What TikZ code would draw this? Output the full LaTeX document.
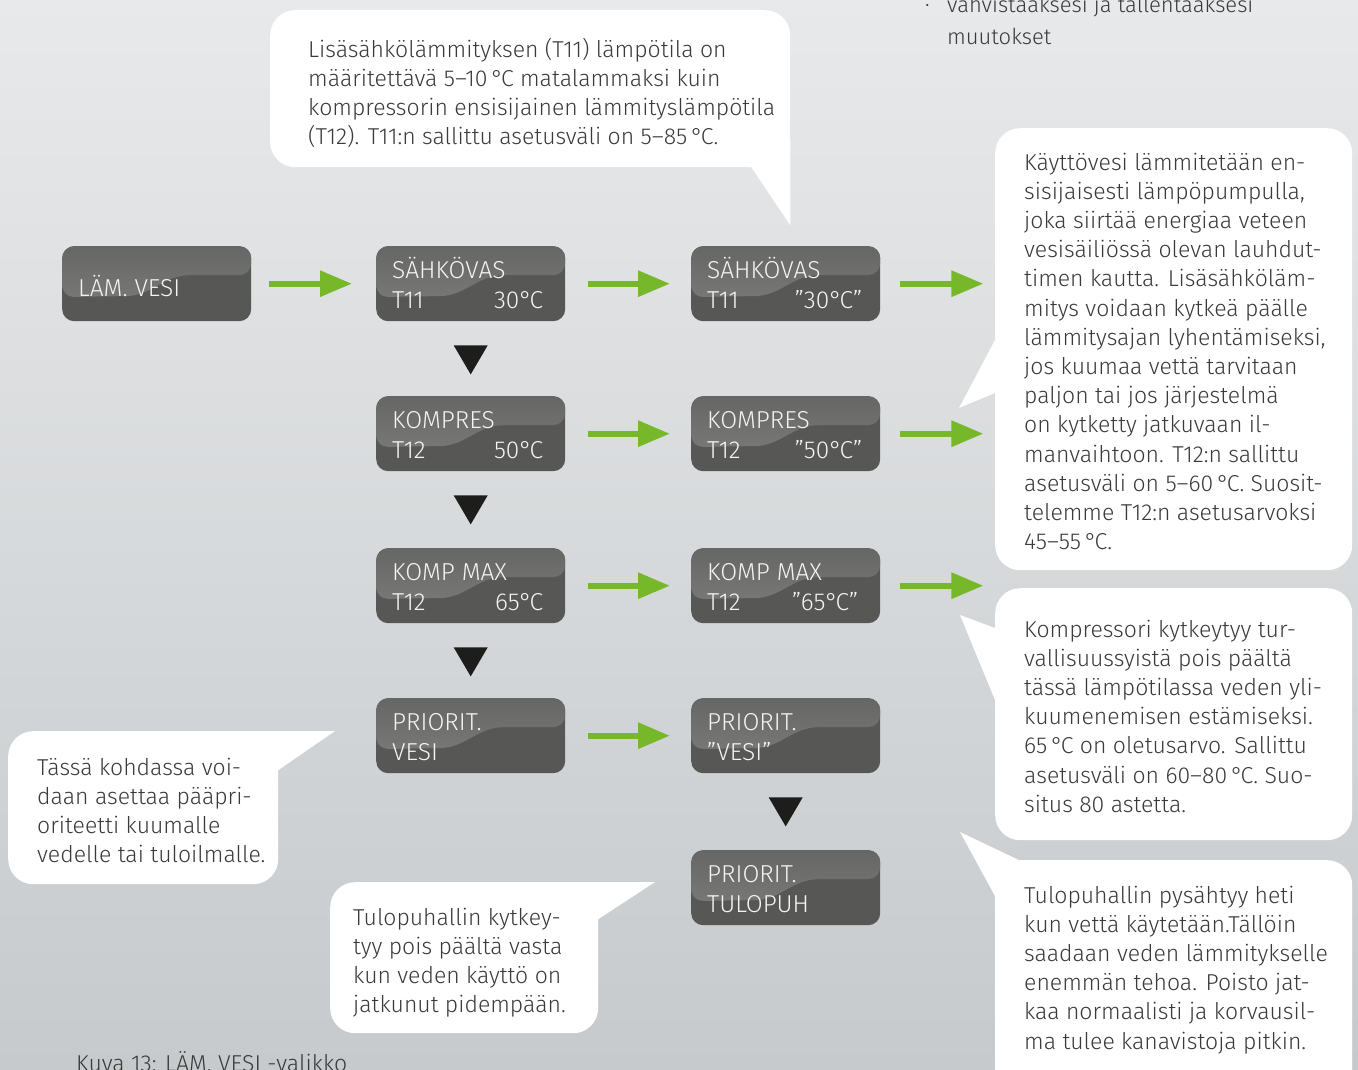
\documentclass[tikz,border=0pt]{standalone}
\usepackage{fontspec}
\setmainfont{Fira Sans}[UprightFont={* Light}]
\usetikzlibrary{arrows.meta,calc}
\definecolor{bgtop}{HTML}{E8E9EA}
\definecolor{bgbot}{HTML}{C6CACD}
\definecolor{boxdark}{HTML}{575756}
\definecolor{boxtop}{HTML}{666665}
\definecolor{boxmid}{HTML}{7F7F7E}
\definecolor{arrowgreen}{HTML}{76B82A}
\definecolor{txtdark}{HTML}{3A3A39}
\definecolor{trifill}{HTML}{1D1D1B}
\definecolor{boxtxt}{HTML}{F4F4F4}
\newcommand\ctext{\fontsize{23}{29.2}\selectfont}
\newcommand\ntext{\fontsize{22}{29.2}\selectfont}
\newcommand\btext{\fontsize{24.5}{28}\selectfont}
\newcommand\dC{°\kern-0.1em C}
\tikzset{
  dispbox/.style={rectangle, rounded corners=12pt, fill=boxdark, minimum width=189pt,
    minimum height=75pt, inner sep=0pt, anchor=north west,
    path picture={\shade[top color=boxtop,bottom color=boxmid]
      (path picture bounding box.north west) -- (path picture bounding box.north east)
      -- ++(0,29) -- ++(-49,0) .. controls +(-40,0) and +(40,0) .. ++(-90,21)
      -- ++(-50,1) -- cycle;}},
  btxt/.style={font=\btext, text=boxtxt, inner sep=0pt},
  callout/.style={rectangle, fill=white, rounded corners=25pt, inner sep=0pt, anchor=north west},
  ctxt/.style={font=\ctext, text=txtdark, align=left, anchor=north west, inner sep=0pt},
  garrow/.style={draw=arrowgreen, line width=6pt, -{Triangle[length=32pt,width=25pt]}},
}
\newcommand\dbox[7]{%
  \node[dispbox] (#1) at (#2,#3) {};
  \node[btxt, anchor=base west] (#1a) at ($(#1.north west)+(16,32)$) {#4};
  \node[btxt, anchor=base west] (#1b) at ($(#1.north west)+(16,62)$) {#5};
  \node[btxt, anchor=base east] (#1c) at ($(#1.north east)+(-#7,62)$) {#6};
}
\newcommand\downtri[1]{%
  \fill[trifill] ($(#1.south)+(-17,24)$) -- ($(#1.south)+(17,24)$) -- ($(#1.south)+(0,53)$) -- cycle;}
\begin{document}
\begin{tikzpicture}[x=1pt,y=-1pt]
\useasboundingbox (0,0) rectangle (1358,1070);
\shade[top color=bgtop,bottom color=bgbot] (0,0) rectangle (1358,1070);

% callouts
\node[callout, minimum width=520pt, minimum height=157pt] (c1) at (270,10) {};
\fill[white] ($(c1.south east)+(0,58)$) -- ($(c1.south east)+(-39,0)$) -- ($(c1.south east)+(-45,-27)$) -- ($(c1.south east)+(0,-27)$) -- cycle;
\node[callout, minimum width=357pt, minimum height=442pt] (c2) at (995,128) {};
\fill[white] ($(c2.north west)+(0,212)$) -- ($(c2.north west)+(-36,280)$) -- ($(c2.north west)+(0,265)$) -- ($(c2.north west)+(10,240)$) -- cycle;
\node[callout, minimum width=357pt, minimum height=252pt] (c3) at (995,588) {};
\fill[white] ($(c3.north west)+(0,40)$) -- ($(c3.north west)+(-35,27)$) -- ($(c3.north west)+(0,112)$) -- ($(c3.north west)+(10,76)$) -- cycle;
\node[callout, minimum width=357pt, minimum height=260pt] (c4) at (995,860) {};
\fill[white] ($(c4.north west)+(-35,-28)$) -- ($(c4.north west)+(28,2)$) -- ($(c4.north west)+(30,30)$) -- ($(c4.north west)+(0,36)$) -- cycle;
\node[callout, minimum width=270pt, minimum height=153pt] (c5) at (8,731) {};
\fill[white] ($(c5.north west)+(230,0)$) -- ($(c5.north west)+(327,0)$) -- ($(c5.north west)+(269,40)$) -- cycle;
\node[callout, minimum width=268pt, minimum height=151pt] (c6) at (330,882) {};
\fill[white] ($(c6.north west)+(240,0)$) -- ($(c6.north west)+(325,0)$) -- ($(c6.north west)+(267,38)$) -- cycle;

% callout texts
\node[ctxt] (t1) at (308,36.5) {\strut Lisäsähkölämmityksen (T11) lämpötila on\\
määritettävä 5–10\,\dC{} matalammaksi kuin\\
kompressorin ensisijainen lämmityslämpötila\\
(T12). T11:n sallittu asetusväli on 5–85\,\dC.};
\node[ctxt] (t2) at (1024,149.5) {\strut Käyttövesi lämmitetään en-\\
sisijaisesti lämpöpumpulla,\\
joka siirtää energiaa veteen\\
vesisäiliössä olevan lauhdut-\\
timen kautta. Lisäsähköläm-\\
mitys voidaan kytkeä päälle\\
lämmitysajan lyhentämiseksi,\\
jos kuumaa vettä tarvitaan\\
paljon tai jos järjestelmä\\
on kytketty jatkuvaan il-\\
manvaihtoon. T12:n sallittu\\
asetusväli on 5–60\,\dC. Suosit-\\
telemme T12:n asetusarvoksi\\
45–55\,\dC.};
\node[ctxt] (t3) at (1024,616.5) {\strut Kompressori kytkeytyy tur-\\
vallisuussyistä pois päältä\\
tässä lämpötilassa veden yli-\\
kuumenemisen estämiseksi.\\
65\,\dC{} on oletusarvo. Sallittu\\
asetusväli on 60–80\,\dC. Suo-\\
situs 80 astetta.};
\node[ctxt] (t4) at (1024,882.5) {\strut Tulopuhallin pysähtyy heti\\
kun vettä käytetään.Tällöin\\
saadaan veden lämmitykselle\\
enemmän tehoa. Poisto jat-\\
kaa normaalisti ja korvausil-\\
ma tulee kanavistoja pitkin.};
\node[ctxt] (t5) at (37,754.5) {\strut Tässä kohdassa voi-\\
daan asettaa pääpri-\\
oriteetti kuumalle\\
vedelle tai tuloilmalle.};
\node[ctxt] (t6) at (353,904.5) {\strut Tulopuhallin kytkey-\\
tyy pois päältä vasta\\
kun veden käyttö on\\
jatkunut pidempään.};

% top-right partial note and caption
\node[font=\ntext, text=txtdark, inner sep=0pt, anchor=base west] (bul) at (925,13) {·};
\node[font=\ntext, text=txtdark, inner sep=0pt, anchor=base west] (n1) at (947,13) {vahvistaaksesi ja tallentaaksesi};
\node[font=\ntext, text=txtdark, inner sep=0pt, anchor=base west] (n2) at (947,45) {muutokset};
\node[font=\ctext, text=txtdark, inner sep=0pt, anchor=base west] (cap) at (76,1071) {Kuva 13: LÄM. VESI -valikko};

% display boxes
\node[dispbox] (lam) at (62,246) {};
\node[btxt, anchor=base west] (lamt) at ($(lam.north west)+(16,50)$) {LÄM. VESI};
\dbox{s1}{376}{246}{SÄHKÖVAS}{T11}{30\dC}{22}
\dbox{s2}{691}{246}{SÄHKÖVAS}{T11}{”30\dC”}{18}
\dbox{k1}{376}{396}{KOMPRES}{T12}{50\dC}{22}
\dbox{k2}{691}{396}{KOMPRES}{T12}{”50\dC”}{18}
\dbox{m1}{376}{548}{KOMP MAX}{T12}{65\dC}{22}
\dbox{m2}{691}{548}{KOMP MAX}{T12}{”65\dC”}{22}
\dbox{p1}{376}{698}{PRIORIT.}{VESI}{}{22}
\dbox{p2}{691}{698}{PRIORIT.}{”VESI”}{}{22}
\dbox{u2}{691}{850}{PRIORIT.}{TULOPUH}{}{22}

% green arrows
\draw[garrow] ([xshift=18pt]lam.east) -- ([xshift=-24pt]s1.west);
\draw[garrow] ([xshift=23pt]s1.east) -- ([xshift=-21pt]s2.west);
\draw[garrow] ([xshift=23pt]k1.east) -- ([xshift=-21pt]k2.west);
\draw[garrow] ([xshift=23pt]m1.east) -- ([xshift=-21pt]m2.west);
\draw[garrow] ([xshift=23pt]p1.east) -- ([xshift=-21pt]p2.west);
\coordinate (e1) at ([xshift=103pt]s2.east);
\coordinate (e2) at ([xshift=103pt]k2.east);
\coordinate (e3) at ([xshift=103pt]m2.east);
\draw[garrow] ([xshift=20pt]s2.east) -- (e1);
\draw[garrow] ([xshift=20pt]k2.east) -- (e2);
\draw[garrow] ([xshift=20pt]m2.east) -- (e3);

% down triangles
\downtri{s1}
\downtri{k1}
\downtri{m1}
\downtri{p2}
\end{tikzpicture}
\end{document}
